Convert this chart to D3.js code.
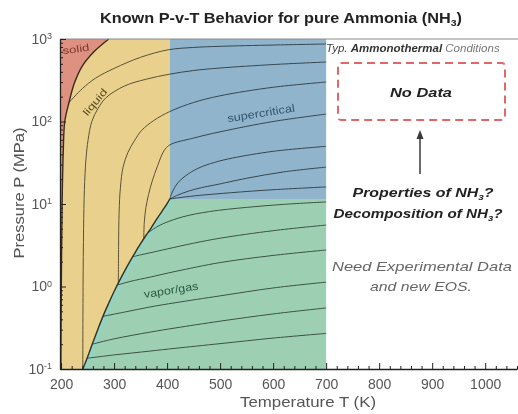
<!DOCTYPE html>
<html>
<head>
<meta charset="utf-8">
<script src="https://cdnjs.cloudflare.com/ajax/libs/d3/7.8.5/d3.min.js"></script>
<style>
  body { margin: 0; background: #fff; }
  svg { display: block; font-family: "Liberation Sans", Arial, sans-serif; }
  .iso { fill: none; stroke: #626262; stroke-width: 1; mix-blend-mode: multiply; }
  .axis path, .axis line { stroke: #222; }
</style>
</head>
<body>
<svg id="chart" width="518" height="414"></svg>
<script>
// axis ranges (T in K, P in MPa)
const tDomain = [198, 1060];
const pDomain = [0.1, 1000];
const xTicks = [200, 300, 400, 500, 600, 700, 800, 900, 1000];
const yTicks = [0.1, 1, 10, 100, 1000];
const yTickExp = ["-1", "0", "1", "2", "3"];

// phase boundaries
const meltT = [199.5, 200.5, 202, 204, 207, 215, 225, 240, 262, 290];
const meltP = [0.1, 1, 10, 40, 100, 170, 290, 470, 700, 1000];
const satT = [241, 250, 260, 270, 280, 290, 300, 310, 320, 330, 340, 350, 360, 370, 380, 390, 400, 405];
const satP = [0.1, 0.14, 0.21, 0.31, 0.45, 0.63, 0.87, 1.17, 1.55, 2.02, 2.6, 3.3, 4.15, 5.15, 6.5, 8.1, 10.1, 11.5];
const critT = 405;
const critP = 11.5;
const dataTMax = 700;

// isochores [T, P]
const isoL1 = [[215, 170], [240, 250], [265, 335], [300, 440], [350, 600], [402, 740], [450, 790], [500, 815], [600, 845], [700, 870]];
const isoL2 = [[241, 0.1], [241.5, 1], [242.5, 5], [244, 15], [247, 35], [251, 60], [258, 100], [270, 145], [285, 195], [320, 270], [360, 325], [405, 375], [450, 415], [500, 445], [600, 490], [700, 526]];
const isoL3 = [[308, 1.1], [308.5, 3], [309.5, 8], [312, 16], [317, 28], [326, 42], [338, 58], [352, 78], [375, 103], [405, 132], [450, 170], [500, 205], [600, 260], [700, 301]];
const isoL4 = [[356, 3.8], [357, 6], [360, 9], [365, 13], [372, 19], [382, 29], [394, 44], [405, 52], [450, 63], [500, 75], [600, 100], [700, 123]];
const isoL5 = [[405, 11.5], [410, 14], [420, 18], [435, 22], [458, 27], [490, 32], [523, 36], [600, 43.5], [700, 50]];
const isoL6 = [[405, 11.5], [420, 12.8], [440, 14.3], [465, 15.8], [490, 17], [550, 20.5], [620, 24.5], [700, 28]];
const isoL7 = [[405, 11.5], [430, 12.1], [460, 12.7], [520, 13.7], [600, 14.9], [700, 16.1]];
const isoV1 = [[363, 4.43], [380, 5.25], [396, 5.9], [430, 7.0], [480, 8.1], [550, 9.1], [620, 9.9], [700, 10.6]];
const isoV2 = [[335, 2.29], [350, 2.42], [368, 2.56], [400, 2.85], [450, 3.35], [500, 3.85], [600, 4.75], [700, 5.56]];
const isoV3 = [[306, 1.04], [330, 1.15], [368, 1.3], [415, 1.52], [500, 1.95], [600, 2.38], [700, 2.77]];
const isoV4 = [[279, 0.435], [320, 0.49], [368, 0.565], [415, 0.635], [500, 0.77], [600, 0.96], [700, 1.13]];
const isoV5 = [[259, 0.2], [300, 0.232], [368, 0.28], [415, 0.314], [500, 0.38], [600, 0.465], [700, 0.55]];
const isoV6 = [[249, 0.135], [300, 0.148], [368, 0.165], [415, 0.178], [500, 0.203], [600, 0.237], [700, 0.27]];
const isochores = [isoL1, isoL2, isoL3, isoL4, isoL5, isoL6, isoL7, isoV1, isoV2, isoV3, isoV4, isoV5, isoV6];

const colors = { solid: "#de9081", liquid: "#e9d18d", supercritical: "#8fb4cb", vapor: "#9dd0b3" };

const svg = d3.select("#chart");
const x = d3.scaleLinear().domain(tDomain).range([60, 517]);
const y = d3.scaleLog().domain(pDomain).range([369, 39]);

const curvePath = d3.line().x((d) => x(d[0])).y((d) => y(d[1])).curve(d3.curveCatmullRom.alpha(0.5));
const straight = (pts) => "M" + pts.map((p) => `${x(p[0])},${y(p[1])}`).join("L");
const join = (...parts) => parts.map((p, i) => (i ? p.replace(/^M/, "L") : p)).join("") + "Z";

const meltPts = meltT.map((t, i) => [t, meltP[i]]);
const satPts = satT.map((t, i) => [t, satP[i]]);
const satRev = satPts.slice().reverse();

// regions
const solidPath = join(curvePath(meltPts), straight([[tDomain[0], pDomain[1]], [tDomain[0], pDomain[0]]]));
const liquidPath = join(curvePath(meltPts), straight([[critT, pDomain[1]], [critT, critP]]), curvePath(satRev));
const vaporPath = join(curvePath(satPts), straight([[dataTMax, critP], [dataTMax, pDomain[0]]]));

svg.append("path").attr("d", solidPath).attr("fill", colors.solid);
svg.append("path").attr("d", liquidPath).attr("fill", colors.liquid);
svg.append("path").attr("d", vaporPath).attr("fill", colors.vapor);
svg.append("rect")
  .attr("x", x(critT))
  .attr("y", y(pDomain[1]))
  .attr("width", x(dataTMax) - x(critT))
  .attr("height", y(critP) - y(pDomain[1]))
  .attr("fill", colors.supercritical);

svg.append("clipPath").attr("id", "vapor-clip").append("path").attr("d", vaporPath);
svg.append("path")
  .attr("d", curvePath(satPts))
  .attr("fill", "none")
  .attr("stroke", "#8ad6d4")
  .attr("stroke-width", 8)
  .attr("opacity", 0.6)
  .attr("clip-path", "url(#vapor-clip)");

svg.append("g")
  .selectAll("path")
  .data(isochores)
  .join("path")
  .attr("class", "iso")
  .attr("d", curvePath);

svg.append("path").attr("d", curvePath(meltPts)).attr("fill", "none").attr("stroke", "#3b2a1c").attr("stroke-width", 1.4);
svg.append("path").attr("d", curvePath(satPts)).attr("fill", "none").attr("stroke", "#33321f").attr("stroke-width", 1.4);

// frame top
svg.append("line")
  .attr("x1", x(tDomain[0])).attr("x2", 518)
  .attr("y1", y(pDomain[1])).attr("y2", y(pDomain[1]))
  .attr("stroke", "#8a8a8a").attr("stroke-width", 1);

// axes
const xMinor = d3.range(200, 1061, 20).filter((d) => d % 100 !== 0);
svg.append("g")
  .attr("class", "axis")
  .attr("transform", `translate(0,${y(pDomain[0])})`)
  .call(d3.axisBottom(x).tickValues(xMinor).tickSize(-3).tickSizeOuter(0).tickFormat(""));
const xAxisG = svg.append("g")
  .attr("class", "axis")
  .attr("transform", `translate(0,${y(pDomain[0])})`)
  .call(d3.axisBottom(x).tickValues(xTicks).tickSize(-6).tickSizeOuter(0).tickPadding(10).tickFormat(d3.format("d")));
xAxisG.select(".domain").attr("stroke-width", 1.3);
xAxisG.selectAll(".tick text").attr("font-size", 14).attr("fill", "#555").attr("font-family", "Liberation Sans, Arial, sans-serif");

const yMinor = [];
yTicks.slice(0, -1).forEach((d) => d3.range(2, 10).forEach((m) => yMinor.push(d * m)));
svg.append("g")
  .attr("class", "axis")
  .attr("transform", `translate(${x(tDomain[0])},0)`)
  .call(d3.axisLeft(y).tickValues(yMinor).tickSize(-3).tickSizeOuter(0).tickFormat(""));
const yAxisG = svg.append("g")
  .attr("class", "axis")
  .attr("transform", `translate(${x(tDomain[0])},0)`)
  .call(d3.axisLeft(y).tickValues(yTicks).tickSize(-6).tickSizeOuter(0).tickPadding(8).tickFormat(() => "10"));
yAxisG.select(".domain").attr("stroke-width", 1.3);
yAxisG.selectAll(".tick text")
  .attr("font-size", 14)
  .attr("fill", "#555")
  .attr("font-family", "Liberation Sans, Arial, sans-serif")
  .each(function (d, i) {
    d3.select(this).append("tspan").attr("dy", "-0.5em").attr("font-size", 9).text(yTickExp[i]);
  });

// axis titles
svg.append("text")
  .attr("x", 308).attr("y", 407)
  .attr("text-anchor", "middle")
  .attr("font-size", 15).attr("fill", "#555")
  .attr("textLength", 136).attr("lengthAdjust", "spacingAndGlyphs")
  .text("Temperature T (K)");
svg.append("text")
  .attr("transform", "translate(24,193) rotate(-90)")
  .attr("text-anchor", "middle")
  .attr("font-size", 15).attr("fill", "#555")
  .attr("textLength", 131).attr("lengthAdjust", "spacingAndGlyphs")
  .text("Pressure P (MPa)");

// title
const title = svg.append("text")
  .attr("x", 281).attr("y", 23)
  .attr("text-anchor", "middle")
  .attr("font-size", 14).attr("font-weight", "bold").attr("fill", "#222")
  .attr("textLength", 362).attr("lengthAdjust", "spacingAndGlyphs");
title.append("tspan").text("Known P-v-T Behavior for pure Ammonia (NH");
title.append("tspan").attr("font-size", 9).attr("dy", 3).text("3");
title.append("tspan").attr("dy", -3).text(")");

// region labels
const regionLabel = (txt, cx, cy, angle, size, fill, len) =>
  svg.append("text")
    .attr("transform", `translate(${cx},${cy}) rotate(${angle})`)
    .attr("text-anchor", "middle")
    .attr("dy", "0.35em")
    .attr("font-size", size)
    .attr("fill", fill)
    .attr("textLength", len).attr("lengthAdjust", "spacingAndGlyphs")
    .text(txt);
regionLabel("solid", 76, 49, -8, 10, "#7a3a2d", 27);
regionLabel("liquid", 95, 102, -50, 10, "#5c4b1e", 32);
regionLabel("supercritical", 261, 113, -9, 11, "#34546e", 68);
regionLabel("vapor/gas", 171, 290, -9, 11, "#2c5a44", 55);

// right side annotations
const typ = svg.append("text").attr("x", 326).attr("y", 52).attr("font-size", 11.5).attr("font-style", "italic");
typ.append("tspan").attr("fill", "#444").text("Typ. ");
typ.append("tspan").attr("fill", "#333").attr("font-weight", "bold").text("Ammonothermal");
typ.append("tspan").attr("fill", "#777").text(" Conditions");

svg.append("rect")
  .attr("x", 338).attr("y", 63).attr("width", 167).attr("height", 57).attr("rx", 3)
  .attr("fill", "none").attr("stroke", "#e06668").attr("stroke-width", 2).attr("stroke-dasharray", "8,5");

svg.append("text")
  .attr("x", 421).attr("y", 97)
  .attr("text-anchor", "middle")
  .attr("font-size", 13).attr("font-weight", "bold").attr("font-style", "italic").attr("fill", "#222")
  .attr("textLength", 62).attr("lengthAdjust", "spacingAndGlyphs")
  .text("No Data");

svg.append("line").attr("x1", 420).attr("x2", 420).attr("y1", 174).attr("y2", 137).attr("stroke", "#3a3a3a").attr("stroke-width", 1.5);
svg.append("path").attr("d", "M420,130L416.5,139L423.5,139Z").attr("fill", "#3a3a3a");

const question = (parts, cx, cy, len) => {
  const t = svg.append("text")
    .attr("x", cx).attr("y", cy)
    .attr("text-anchor", "middle")
    .attr("font-size", 13).attr("font-weight", "bold").attr("font-style", "italic").attr("fill", "#222")
    .attr("textLength", len).attr("lengthAdjust", "spacingAndGlyphs");
  t.append("tspan").text(parts);
  t.append("tspan").attr("font-size", 8).attr("dy", 3).text("3");
  t.append("tspan").attr("dy", -3).text("?");
};
question("Properties of NH", 423, 197, 141);
question("Decomposition of NH", 418, 218, 169);

svg.append("text")
  .attr("x", 422).attr("y", 271)
  .attr("text-anchor", "middle")
  .attr("font-size", 13).attr("font-style", "italic").attr("fill", "#666")
  .attr("textLength", 180).attr("lengthAdjust", "spacingAndGlyphs")
  .text("Need Experimental Data");
svg.append("text")
  .attr("x", 421).attr("y", 291)
  .attr("text-anchor", "middle")
  .attr("font-size", 13).attr("font-style", "italic").attr("fill", "#666")
  .attr("textLength", 102).attr("lengthAdjust", "spacingAndGlyphs")
  .text("and new EOS.");
</script>
</body>
</html>
